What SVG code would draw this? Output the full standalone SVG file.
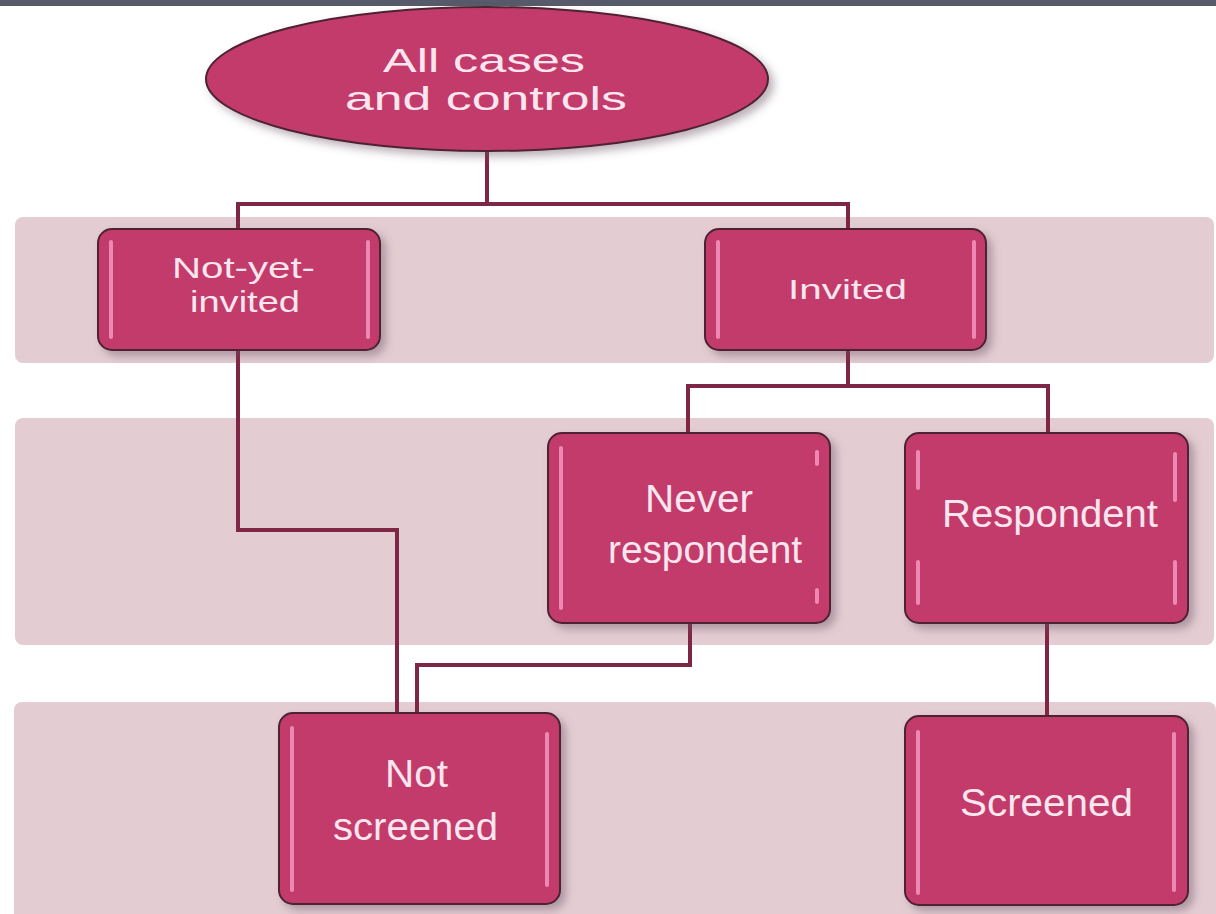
<svg xmlns="http://www.w3.org/2000/svg" width="1216" height="914" viewBox="0 0 1216 914">
<defs>
<style>
.band{fill:#e3cdd3}
.node{fill:#c23b6a;stroke:#4e2232;stroke-width:2}
.hl{fill:#f497bf;opacity:0.85}
.conn{fill:none;stroke:#7e2645;stroke-width:4;stroke-linejoin:miter}
.t{font-family:"Liberation Sans",Arial,sans-serif;fill:#fbe6ef;text-anchor:start}
</style>
<filter id="sh" x="-10%" y="-10%" width="125%" height="130%">
<feDropShadow dx="5" dy="5" stdDeviation="4" flood-color="#6a5560" flood-opacity="0.45"/>
</filter>
</defs>
<rect x="0" y="0" width="1216" height="914" fill="#ffffff"/>
<rect x="0" y="0" width="1216" height="6" fill="#565a6a"/>
<g id="bands">
<rect class="band" x="15" y="217" width="1199" height="146" rx="8"/>
<rect class="band" x="15" y="418" width="1199" height="227" rx="8"/>
<rect class="band" x="14" y="702" width="1202" height="230" rx="8"/>
</g>
<g id="connectors">
<path class="conn" d="M487 150 V204"/>
<path class="conn" d="M238 229 V204 H848 V229"/>
<path class="conn" d="M848 350 V386"/>
<path class="conn" d="M688 434 V386 H1048 V434"/>
<path class="conn" d="M238 350 V530 H397 V713"/>
<path class="conn" d="M690 623 V665 H417 V713"/>
<path class="conn" d="M1047 622 V716"/>
</g>
<g id="root">
<ellipse class="node" cx="487" cy="79" rx="281" ry="72" filter="url(#sh)"/>
<text class="t" x="383" y="72" font-size="33" textLength="202" lengthAdjust="spacingAndGlyphs">All cases</text>
<text class="t" x="345" y="110" font-size="33" textLength="282" lengthAdjust="spacingAndGlyphs">and controls</text>
</g>
<g id="not-yet-invited">
<rect class="node" x="98" y="229" width="282" height="121" rx="14" filter="url(#sh)"/>
<rect class="hl" x="109" y="240" width="4" height="99" rx="2"/>
<rect class="hl" x="366" y="240" width="4" height="99" rx="2"/>
<text class="t" x="172" y="278" font-size="30" textLength="143" lengthAdjust="spacingAndGlyphs">Not-yet-</text>
<text class="t" x="190" y="312" font-size="30" textLength="110" lengthAdjust="spacingAndGlyphs">invited</text>
</g>
<g id="invited">
<rect class="node" x="705" y="229" width="281" height="121" rx="14" filter="url(#sh)"/>
<rect class="hl" x="716" y="240" width="4" height="99" rx="2"/>
<rect class="hl" x="972" y="240" width="4" height="99" rx="2"/>
<text class="t" x="788" y="299" font-size="28" textLength="119" lengthAdjust="spacingAndGlyphs">Invited</text>
</g>
<g id="never-respondent">
<rect class="node" x="548" y="433" width="282" height="190" rx="14" filter="url(#sh)"/>
<rect class="hl" x="559" y="446" width="4" height="164" rx="2"/>
<rect class="hl" x="815" y="450" width="4" height="16" rx="2"/>
<rect class="hl" x="815" y="588" width="4" height="16" rx="2"/>
<text class="t" x="645" y="512" font-size="38" textLength="108" lengthAdjust="spacingAndGlyphs">Never</text>
<text class="t" x="608" y="563" font-size="38" textLength="194" lengthAdjust="spacingAndGlyphs">respondent</text>
</g>
<g id="respondent">
<rect class="node" x="905" y="433" width="283" height="190" rx="14" filter="url(#sh)"/>
<rect class="hl" x="916" y="450" width="4" height="40" rx="2"/>
<rect class="hl" x="916" y="560" width="4" height="45" rx="2"/>
<rect class="hl" x="1173" y="452" width="4" height="50" rx="2"/>
<rect class="hl" x="1173" y="560" width="4" height="45" rx="2"/>
<text class="t" x="942" y="527" font-size="38" textLength="216" lengthAdjust="spacingAndGlyphs">Respondent</text>
</g>
<g id="not-screened">
<rect class="node" x="279" y="713" width="281" height="191" rx="14" filter="url(#sh)"/>
<rect class="hl" x="290" y="726" width="4" height="166" rx="2"/>
<rect class="hl" x="545" y="732" width="4" height="155" rx="2"/>
<text class="t" x="385" y="787" font-size="38" textLength="63" lengthAdjust="spacingAndGlyphs">Not</text>
<text class="t" x="333" y="840" font-size="38" textLength="165" lengthAdjust="spacingAndGlyphs">screened</text>
</g>
<g id="screened">
<rect class="node" x="905" y="716" width="283" height="189" rx="14" filter="url(#sh)"/>
<rect class="hl" x="916" y="730" width="4" height="165" rx="2"/>
<rect class="hl" x="1172" y="732" width="4" height="160" rx="2"/>
<text class="t" x="960" y="816" font-size="38" textLength="173" lengthAdjust="spacingAndGlyphs">Screened</text>
</g>
</svg>
